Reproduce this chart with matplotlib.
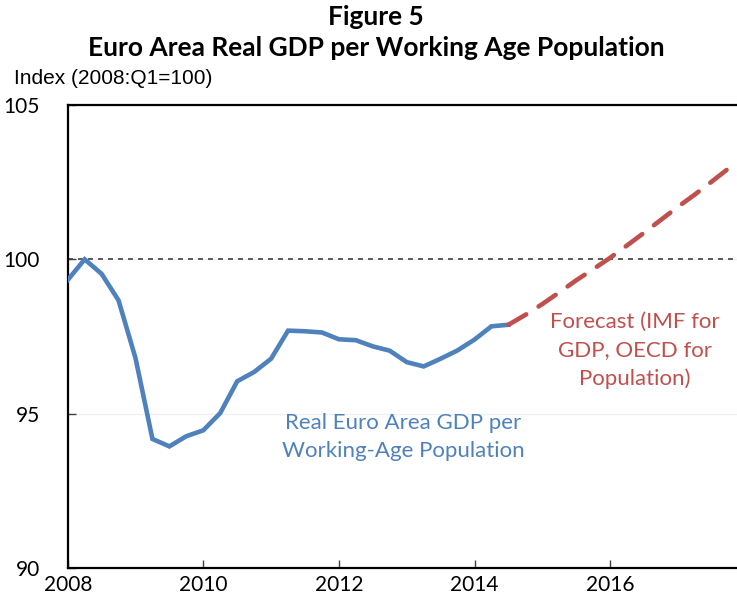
import matplotlib
matplotlib.use('Agg')
import matplotlib.pyplot as plt
import numpy as np

# quarterly index, 2008Q1 = 100
actual_start = 2008.0
actual = [99.33, 100.0, 99.53, 98.67, 96.8, 94.18, 93.94, 94.27, 94.46,
          95.02, 96.05, 96.35, 96.78, 97.69, 97.67, 97.63, 97.41, 97.38,
          97.18, 97.04, 96.67, 96.53, 96.78, 97.05, 97.40, 97.83, 97.88]

forecast_start = 2014.5
forecast = [97.88, 98.2, 98.55, 98.93, 99.32, 99.68, 100.05, 100.45,
            100.86, 101.28, 101.7, 102.1, 102.52, 102.95, 103.37]

yticks = [90, 95, 100, 105]
xticks = [2008, 2010, 2012, 2014, 2016]

blue = '#4F81BD'
red = '#C0504D'

x_act = actual_start + np.arange(len(actual)) / 4
x_fc = forecast_start + np.arange(len(forecast)) / 4

fig = plt.figure(figsize=(7.37, 6.04), dpi=100)
ax = fig.add_axes([67.7 / 737, 1 - 568 / 604, 1 - 67.7 / 737, (568 - 105) / 604])

for y in yticks:
    ax.axhline(y, color='#F0F0F0', lw=1, zorder=0)
ax.axhline(100, color='#404040', lw=1.2, ls=(0, (3, 3)), zorder=1)

ax.plot(x_act, actual, color=blue, lw=3.3, solid_joinstyle='miter', zorder=3)
ax.plot(x_fc, forecast, color=red, lw=3.3, ls=(0, (4.5, 3.2)),
        dash_capstyle='round', zorder=3)

ax.set_xlim(2008, 2008 + (737 - 67.7) / 67.8)
ax.set_ylim(90, 105)
ax.set_xticks(xticks)
ax.set_yticks(yticks)
ax.set_xticklabels([str(t) for t in xticks], fontfamily='Lato', fontsize=15)
ax.set_yticklabels([str(t) for t in yticks], fontfamily='Lato', fontsize=15)
ax.tick_params(direction='in', length=6, width=1, color='#404040')
ax.tick_params(axis='y', pad=20)
ax.tick_params(axis='x', pad=5)

ax.spines['right'].set_visible(False)
for s in ['left', 'bottom', 'top']:
    ax.spines[s].set_linewidth(1.6)

ax.text(2012.95, 94.26, 'Real Euro Area GDP per\nWorking-Age Population',
        color=blue, fontfamily='Lato', fontsize=16, ha='center', va='center',
        linespacing=1.5)
ax.text(2016.37, 97.04, 'Forecast (IMF for\nGDP, OECD for\nPopulation)',
        color=red, fontfamily='Lato', fontsize=16, ha='center', va='center',
        linespacing=1.5)

fig.text(0.51, 1 - 17 / 604, 'Figure 5', fontfamily='Lato', fontweight='bold',
         fontsize=19, ha='center', va='center')
fig.text(0.51, 1 - 48 / 604, 'Euro Area Real GDP per Working Age Population',
         fontfamily='Lato', fontweight='bold', fontsize=19, ha='center', va='center')
fig.text(14 / 737, 1 - 78 / 604, 'Index (2008:Q1=100)', fontfamily='Liberation Sans',
         fontsize=15, ha='left', va='center')

fig.savefig('out.png', dpi=100)
